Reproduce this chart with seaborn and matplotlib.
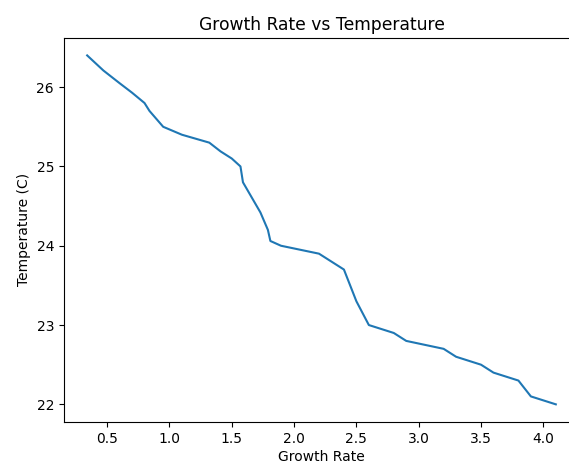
import matplotlib
matplotlib.use("Agg")
import matplotlib.pyplot as plt
import seaborn as sns
import pandas as pd

growth_rate = [0.34, 0.47, 0.60, 0.70, 0.80, 0.84, 0.95, 1.10, 1.32, 1.41, 1.50, 1.57, 1.59,
               1.73, 1.79, 1.81, 1.895, 2.20, 2.40, 2.50, 2.60, 2.80, 2.90, 3.20, 3.30,
               3.50, 3.60, 3.80, 3.90, 4.10]
temperature = [26.40, 26.21, 26.05, 25.93, 25.80, 25.70, 25.50, 25.40, 25.30, 25.19, 25.10,
               25.00, 24.80, 24.42, 24.20, 24.06, 24.00, 23.90, 23.70, 23.30, 23.00, 22.90,
               22.80, 22.70, 22.60, 22.50, 22.40, 22.30, 22.10, 22.00]

df = pd.DataFrame({"Growth Rate": growth_rate, "Temperature (C)": temperature})

fig, ax = plt.subplots(figsize=(5.69, 4.63), dpi=100)
fig.subplots_adjust(left=0.112, right=1.018, top=0.918, bottom=0.089)
sns.lineplot(data=df, x="Growth Rate", y="Temperature (C)", sort=False, estimator=None,
             color="#1f77b4", ax=ax)
ax.set_title("Growth Rate vs Temperature", fontsize=12.3)
ax.set_xlabel("Growth Rate", labelpad=3)
ax.set_ylabel("Temperature (C)")
fig.savefig("out.png", dpi=100)
